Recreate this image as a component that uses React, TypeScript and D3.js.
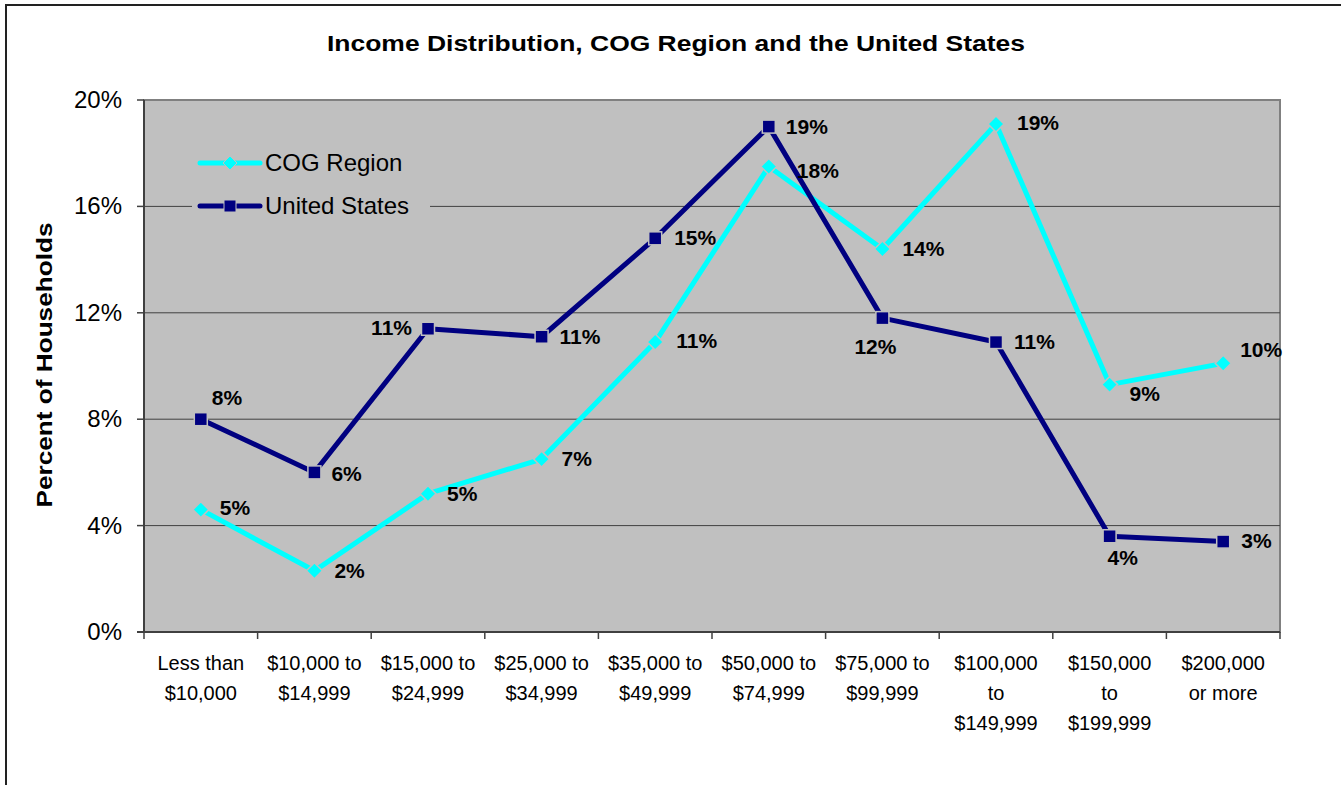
import React from 'react';
import * as d3 from 'd3';

// data (percent of households)
const categories: string[][] = [
    ['Less than', '$10,000'],
    ['$10,000 to', '$14,999'],
    ['$15,000 to', '$24,999'],
    ['$25,000 to', '$34,999'],
    ['$35,000 to', '$49,999'],
    ['$50,000 to', '$74,999'],
    ['$75,000 to', '$99,999'],
    ['$100,000', 'to', '$149,999'],
    ['$150,000', 'to', '$199,999'],
    ['$200,000', 'or more'],
];
const cogValues = [4.6, 2.3, 5.2, 6.5, 10.9, 17.5, 14.4, 19.1, 9.3, 10.1];
const usValues = [8.0, 6.0, 11.4, 11.1, 14.8, 19.0, 11.8, 10.9, 3.6, 3.4];
const yTicks = [0, 4, 8, 12, 16, 20];

// label placement, like Excel left them (dx, dy, anchor)
const cogLabelPos: [number, number, string][] = [
    [19, 5, 'start'], [20, 7, 'start'], [19, 7, 'start'], [20, 7, 'start'], [21, 6, 'start'],
    [28, 11, 'start'], [20, 7, 'start'], [21, 6, 'start'], [20, 16, 'start'], [17, -6, 'start'],
];
const usLabelPos: [number, number, string][] = [
    [11, -14, 'start'], [17, 9, 'start'], [-16, 6, 'end'], [18, 7, 'start'], [19, 7, 'start'],
    [17, 7, 'start'], [-7, 36, 'middle'], [18, 7, 'start'], [-2, 29, 'start'], [18, 6, 'start'],
];

const W = 1341;
const H = 785;
const plot = { left: 144, right: 1280, top: 100, bottom: 632 };
const FONT = 'Arial, "Liberation Sans", sans-serif';
const COG = '#00FFFF';
const US = '#000080';
const BG = '#C0C0C0';

const App: React.FC = () => {
    const x = d3.scaleBand<number>()
        .domain(d3.range(categories.length))
        .range([plot.left, plot.right]);
    const y = d3.scaleLinear().domain([0, 20]).range([plot.bottom, plot.top]);
    const cx = (i: number) => (x(i) ?? 0) + x.bandwidth() / 2;

    const line = d3.line<number>().x((_, i) => cx(i)).y(d => y(d));

    const diamond = (px: number, py: number, r: number) =>
        `M${px},${py - r}L${px + r},${py}L${px},${py + r}L${px - r},${py}Z`;

    const tickXs = d3.range(categories.length + 1).map(i =>
        i < categories.length ? (x(i) ?? 0) : plot.right);

    return (
        <svg width={W} height={H} style={{ position: 'absolute', left: 0, top: 0, background: '#fff' }}
            fontFamily={FONT}>
            {/* outer chart frame */}
            <rect x={6} y={5} width={W + 20} height={H + 20} fill="#fff" stroke="#222" strokeWidth={2} />

            <text x={676} y={51} textAnchor="middle" fontSize={22} fontWeight="bold" textLength={698}
                lengthAdjust="spacingAndGlyphs">
                Income Distribution, COG Region and the United States
            </text>

            {/* plot area */}
            <rect x={plot.left} y={plot.top} width={plot.right - plot.left} height={plot.bottom - plot.top}
                fill={BG} stroke="#808080" strokeWidth={2} />
            {yTicks.filter(t => t > 0 && t < 20).map(t => (
                <line key={t} x1={plot.left} x2={plot.right} y1={y(t)} y2={y(t)} stroke="#404040" strokeWidth={1} />
            ))}

            {/* axes */}
            <line x1={plot.left} x2={plot.left} y1={plot.top} y2={plot.bottom} stroke="#404040" strokeWidth={2} />
            <line x1={plot.left - 7} x2={plot.right} y1={plot.bottom} y2={plot.bottom} stroke="#404040" strokeWidth={2} />
            {yTicks.map(t => (
                <g key={t}>
                    <line x1={plot.left - 7} x2={plot.left} y1={y(t)} y2={y(t)} stroke="#404040" strokeWidth={1.5} />
                    <text x={122} y={y(t) + 8} textAnchor="end" fontSize={24}>{t}%</text>
                </g>
            ))}
            {tickXs.map((tx, i) => (
                <line key={i} x1={tx} x2={tx} y1={plot.bottom} y2={plot.bottom + 7} stroke="#404040" strokeWidth={1.5} />
            ))}
            {categories.map((lines, i) => (
                <text key={i} x={cx(i)} textAnchor="middle" fontSize={20}>
                    {lines.map((l, j) => (
                        <tspan key={j} x={cx(i)} y={670 + j * 30}>{l}</tspan>
                    ))}
                </text>
            ))}
            <text transform="translate(52,365) rotate(-90)" textAnchor="middle" fontSize={22} fontWeight="bold"
                textLength={285} lengthAdjust="spacingAndGlyphs">
                Percent of Households
            </text>

            {/* legend */}
            <rect x={192} y={142} width={238} height={86} fill={BG} />
            <line x1={200} x2={260} y1={163} y2={163} stroke={COG} strokeWidth={5} strokeLinecap="round" />
            <path d={diamond(230, 163, 7)} fill={COG} stroke={BG} strokeWidth={1} />
            <text x={265} y={171} fontSize={24}>COG Region</text>
            <line x1={200} x2={260} y1={206} y2={206} stroke={US} strokeWidth={5} strokeLinecap="round" />
            <rect x={224} y={200} width={12} height={12} fill={US} stroke={BG} strokeWidth={1} />
            <text x={265} y={214} fontSize={24}>United States</text>

            {/* series */}
            <path d={line(cogValues) || ''} fill="none" stroke={COG} strokeWidth={5} strokeLinejoin="round" />
            {cogValues.map((v, i) => (
                <path key={i} d={diamond(cx(i), y(v), 8)} fill={COG} stroke={BG} strokeWidth={1.5} />
            ))}
            <path d={line(usValues) || ''} fill="none" stroke={US} strokeWidth={5} strokeLinejoin="round" />
            {usValues.map((v, i) => (
                <rect key={i} x={cx(i) - 6.5} y={y(v) - 6.5} width={13} height={13} fill={US} stroke={BG} strokeWidth={1.5} />
            ))}

            {/* data labels */}
            {cogValues.map((v, i) => (
                <text key={`c${i}`} x={cx(i) + cogLabelPos[i][0]} y={y(v) + cogLabelPos[i][1]}
                    textAnchor={cogLabelPos[i][2]} fontSize={21} fontWeight="bold">
                    {Math.round(v)}%
                </text>
            ))}
            {usValues.map((v, i) => (
                <text key={`u${i}`} x={cx(i) + usLabelPos[i][0]} y={y(v) + usLabelPos[i][1]}
                    textAnchor={usLabelPos[i][2]} fontSize={21} fontWeight="bold">
                    {Math.round(v)}%
                </text>
            ))}
        </svg>
    );
};

export default App;
